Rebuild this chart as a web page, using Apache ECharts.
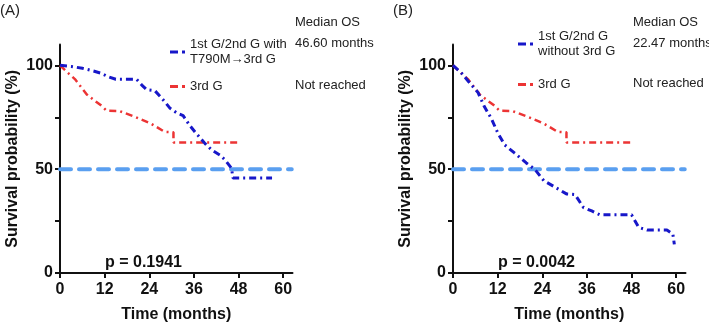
<!DOCTYPE html>
<html>
<head>
<meta charset="utf-8">
<script src="https://cdn.jsdelivr.net/npm/echarts@6/dist/echarts.min.js"></script>
<style>
  html, body { margin: 0; padding: 0; background: #fff; }
  #main { width: 709px; height: 328px; }
</style>
</head>
<body>
<div id="main"></div>
<script>
// KM curves (months, survival %)
var blueA_t = [0, 3, 6, 9, 11, 13, 15, 20.6, 22, 23.3, 25.5, 27.3, 29.6, 31.5, 33.1, 34.9, 36.3, 39, 40.8, 43, 44.4, 46.1, 46.5, 57];
var blueA_v = [100, 99.5, 98.6, 97.3, 96.2, 94.5, 93.3, 93.3, 90.5, 88.3, 87.8, 84.3, 79.3, 77, 75.8, 71, 67.9, 62.3, 59.2, 56.8, 54.4, 50.5, 45.7, 45.7];

var red_t = [0, 1.8, 4, 7.2, 9.2, 11.2, 12.5, 16, 20.3, 24.5, 28.1, 30.5, 30.5, 48.4];
var red_v = [100, 96.9, 93.4, 86, 83.2, 80.5, 78.2, 78, 75.1, 71.9, 68, 67.8, 62.8, 62.8];

var blueB_t = [0, 2.2, 4.0, 6.7, 8.5, 10.3, 12.1, 13.9, 16.6, 19.7, 22, 24.4, 27, 30.5, 32.8, 35.1, 37.3, 39.5, 48, 49.9, 52.2, 57.5, 59.1, 59.5];
var blueB_v = [100, 96.5, 92.6, 87, 79.9, 74.4, 67.2, 61.7, 57.7, 53, 49.9, 44.5, 41.8, 38.1, 37.8, 31.5, 29.9, 28, 28, 22, 20.7, 20.7, 18.8, 13.8];

var ref_t = [0, 62.3];
var ref_v = [50, 50];

var xTicks = [0, 12, 24, 36, 48, 60];
var yLabels = [0, 50, 100];
var yTicks = [0, 25, 50, 75, 100];

var nameA = '1st G/2nd G with\nT790M\u21923rd G';
var nameB = '1st G/2nd G\nwithout 3rd G';
var nameRed = '3rd G';

function pairs(t, v) {
  return t.map(function (x, i) { return [x, v[i]]; });
}

var FONT = '"Liberation Sans", Arial, sans-serif';
var BLUE = '#1717c9';
var RED = '#ec3434';
var REF = '#5a9ff0';
// dash + dot legend glyph
var LEG_ICON = 'path://M0,0H8V3H0Z M12,0H15V3H12Z';

function xAxisFor(idx) {
  return {
    gridIndex: idx, type: 'value', min: 0, max: 62.5,
    name: 'Time (months)', nameLocation: 'middle', nameGap: 34,
    nameTextStyle: { color: '#111', fontSize: 16, fontWeight: 'bold', fontFamily: FONT },
    axisLine: { show: true, lineStyle: { color: '#111', width: 2 } },
    axisTick: { show: true, length: 5, lineStyle: { color: '#111', width: 2 }, customValues: xTicks },
    axisLabel: { color: '#111', fontSize: 16, fontWeight: 'bold', fontFamily: FONT, margin: 9, customValues: xTicks },
    splitLine: { show: false }
  };
}
function yAxisFor(idx) {
  return {
    gridIndex: idx, type: 'value', min: 0, max: 110,
    name: 'Survival probability (%)', nameLocation: 'middle', nameGap: 39,
    nameTextStyle: { color: '#111', fontSize: 16, fontWeight: 'bold', fontFamily: FONT },
    axisLine: { show: true, lineStyle: { color: '#111', width: 2 } },
    axisTick: { show: true, length: 5, lineStyle: { color: '#111', width: 2 }, customValues: yTicks },
    axisLabel: { color: '#111', fontSize: 16, fontWeight: 'bold', fontFamily: FONT, margin: 7, customValues: yLabels },
    splitLine: { show: false }
  };
}
function curve(name, idx, data, color, w) {
  return {
    name: name, type: 'line', xAxisIndex: idx, yAxisIndex: idx,
    data: data, symbol: 'none', silent: true, z: 3,
    lineStyle: { color: color, width: w, type: [7, 4, 2, 4] },
    itemStyle: { color: color }
  };
}
function refLine(idx) {
  return {
    type: 'line', xAxisIndex: idx, yAxisIndex: idx, data: pairs(ref_t, ref_v),
    symbol: 'none', silent: true, z: 2,
    lineStyle: { color: REF, width: 4, type: [11, 8], cap: 'round' }
  };
}
function txt(x, y, s, opts) {
  return {
    type: 'text', x: x, y: y, silent: true,
    style: Object.assign({ text: s, fill: '#222', font: '13px ' + FONT, verticalAlign: 'middle' }, opts || {})
  };
}
function legendAt(left, top, gap, names) {
  return {
    orient: 'vertical', left: left, top: top, itemWidth: 15, itemHeight: 3, itemGap: gap,
    icon: LEG_ICON, data: names, selectedMode: false,
    textStyle: { color: '#222', fontSize: 13, fontFamily: FONT, lineHeight: 15 }
  };
}

var chart = echarts.init(document.getElementById('main'));
chart.setOption({
  animation: false,
  backgroundColor: '#fff',
  grid: [
    { left: 60, top: 44.6, width: 232.5, height: 231.7 },
    { left: 453, top: 44.6, width: 232.5, height: 231.7 }
  ],
  xAxis: [xAxisFor(0), xAxisFor(1)],
  yAxis: [yAxisFor(0), yAxisFor(1)],
  legend: [
    legendAt(165, 32, 12, [nameA, nameRed]),
    legendAt(513, 24, 18, [nameB, nameRed])
  ],
  series: [
    refLine(0),
    refLine(1),
    curve(nameRed, 0, pairs(red_t, red_v), RED, 2.5),
    curve(nameA, 0, pairs(blueA_t, blueA_v), BLUE, 3),
    curve(nameRed, 1, pairs(red_t, red_v), RED, 2.5),
    curve(nameB, 1, pairs(blueB_t, blueB_v), BLUE, 3)
  ],
  graphic: [
    txt(0, 11, '(A)', { font: '15px ' + FONT }),
    txt(393, 11, '(B)', { font: '15px ' + FONT }),
    txt(295, 22, 'Median OS'),
    txt(295, 43, '46.60 months'),
    txt(295, 85, 'Not reached'),
    txt(633, 22, 'Median OS'),
    txt(633, 43, '22.47 months'),
    txt(633, 83, 'Not reached'),
    txt(105, 263, 'p = 0.1941', { font: 'bold 16px ' + FONT, fill: '#111' }),
    txt(498, 263, 'p = 0.0042', { font: 'bold 16px ' + FONT, fill: '#111' })
  ]
});
</script>
</body>
</html>
